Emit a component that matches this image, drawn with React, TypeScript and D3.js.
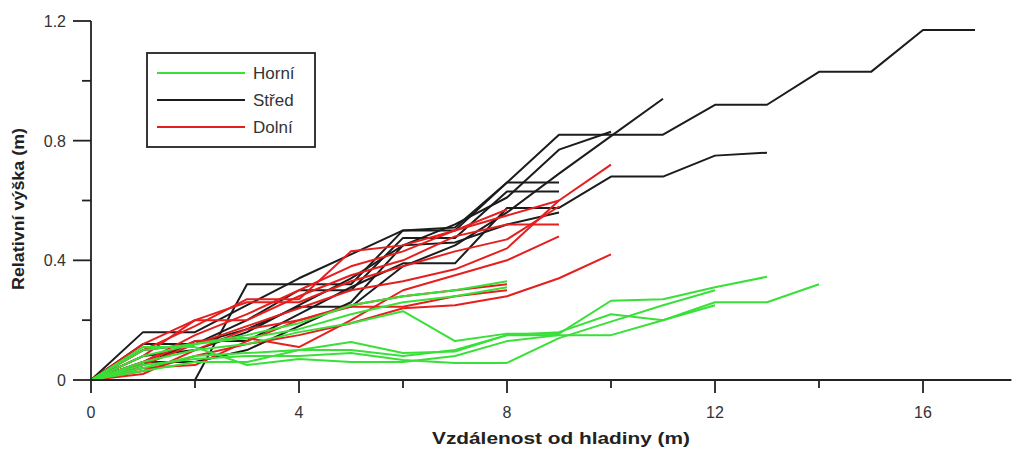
import { useEffect, useRef } from "react";
import * as d3 from "d3";

type Pt = [number, number];

// Horní (upper) profiles
const horni: Pt[][] = [
  [[0, 0], [1, 0.03], [2, 0.06], [3, 0.06], [4, 0.1], [5, 0.1], [6, 0.08], [7, 0.1], [8, 0.15], [9, 0.15], [10, 0.15], [11, 0.2], [12, 0.26], [13, 0.26], [14, 0.32]],
  [[0, 0], [1, 0.06], [2, 0.1], [3, 0.12], [4, 0.16], [5, 0.19], [6, 0.23], [7, 0.13], [8, 0.155], [9, 0.155], [10, 0.265], [11, 0.27], [12, 0.31], [13, 0.345]],
  [[0, 0], [1, 0.05], [2, 0.07], [3, 0.08], [4, 0.08], [5, 0.09], [6, 0.067], [7, 0.057], [8, 0.057], [9, 0.14], [10, 0.195], [11, 0.25], [12, 0.3]],
  [[0, 0], [1, 0.08], [2, 0.12], [3, 0.15], [4, 0.19], [5, 0.25], [6, 0.28], [7, 0.3], [8, 0.33]],
  [[0, 0], [1, 0.1], [2, 0.12], [3, 0.14], [4, 0.17], [5, 0.22], [6, 0.26], [7, 0.28], [8, 0.31]],
  [[0, 0], [1, 0.04], [2, 0.08], [3, 0.09], [4, 0.1], [5, 0.127], [6, 0.09], [7, 0.095], [8, 0.15], [9, 0.16], [10, 0.22], [11, 0.2], [12, 0.25]],
  [[0, 0], [1, 0.11], [2, 0.11], [3, 0.05], [4, 0.07], [5, 0.06], [6, 0.06], [7, 0.08], [8, 0.13], [9, 0.15]],
];

// Střed (middle) profiles
const stred: Pt[][] = [
  [[0, 0], [1, 0.16], [2, 0.16], [3, 0.25], [4, 0.34], [5, 0.42], [6, 0.5], [7, 0.5], [8, 0.66], [9, 0.82], [10, 0.82], [11, 0.82], [12, 0.92], [13, 0.92], [14, 1.03], [15, 1.03], [16, 1.17], [17, 1.17]],
  [[0, 0], [1, 0], [2, 0], [3, 0.32], [4, 0.32], [5, 0.32], [6, 0.5], [7, 0.51], [8, 0.66], [9, 0.66]],
  [[0, 0], [1, 0.1], [2, 0.12], [3, 0.17], [4, 0.245], [5, 0.245], [6, 0.38], [7, 0.45], [8, 0.56], [9, 0.69], [10, 0.815], [11, 0.94]],
  [[0, 0], [1, 0.05], [2, 0.13], [3, 0.13], [4, 0.22], [5, 0.31], [6, 0.39], [7, 0.39], [8, 0.575], [9, 0.575], [10, 0.68], [11, 0.68], [12, 0.75], [13, 0.76]],
  [[0, 0], [1, 0.12], [2, 0.12], [3, 0.2], [4, 0.3], [5, 0.3], [6, 0.475], [7, 0.475], [8, 0.63], [9, 0.63]],
  [[0, 0], [1, 0.08], [2, 0.1], [3, 0.16], [4, 0.25], [5, 0.34], [6, 0.45], [7, 0.52], [8, 0.61], [9, 0.77], [10, 0.83]],
  [[0, 0], [1, 0.06], [2, 0.06], [3, 0.1], [4, 0.18], [5, 0.26], [6, 0.45], [7, 0.46], [8, 0.52], [9, 0.56]],
];

// Dolní (lower) profiles
const dolni: Pt[][] = [
  [[0, 0], [1, 0.05], [2, 0.12], [3, 0.18], [4, 0.24], [5, 0.3], [6, 0.33], [7, 0.37], [8, 0.44], [9, 0.6], [10, 0.72]],
  [[0, 0], [1, 0.03], [2, 0.08], [3, 0.12], [4, 0.15], [5, 0.19], [6, 0.24], [7, 0.25], [8, 0.28], [9, 0.34], [10, 0.42]],
  [[0, 0], [1, 0.08], [2, 0.2], [3, 0.2], [4, 0.28], [5, 0.35], [6, 0.4], [7, 0.48], [8, 0.52], [9, 0.52]],
  [[0, 0], [1, 0.1], [2, 0.18], [3, 0.27], [4, 0.27], [5, 0.43], [6, 0.45], [7, 0.5], [8, 0.55], [9, 0.6]],
  [[0, 0], [1, 0.06], [2, 0.15], [3, 0.22], [4, 0.3], [5, 0.38], [6, 0.43], [7, 0.5], [8, 0.57]],
  [[0, 0], [1, 0.02], [2, 0.1], [3, 0.17], [4, 0.2], [5, 0.25], [6, 0.28], [7, 0.3], [8, 0.32]],
  [[0, 0], [1, 0.12], [2, 0.2], [3, 0.26], [4, 0.26], [5, 0.33], [6, 0.38], [7, 0.43], [8, 0.47], [9, 0.58]],
  [[0, 0], [1, 0.04], [2, 0.05], [3, 0.13], [4, 0.2], [5, 0.245], [6, 0.245], [7, 0.28], [8, 0.3]],
  [[0, 0], [1, 0.06], [2, 0.13], [3, 0.14], [4, 0.11], [5, 0.2], [6, 0.3], [7, 0.35], [8, 0.4], [9, 0.48]],
];

const legendNames = ["Horní", "Střed", "Dolní"];
const colors = ["#38e038", "#1c1c1c", "#e51e1e"];
const xTicks = [0, 4, 8, 12, 16];
const xMinor = [2, 6, 10, 14];
const yTicks = [0, 0.4, 0.8, 1.2];
const yMinor = [0.2, 0.6, 1.0];

export default function App() {
  const ref = useRef<SVGSVGElement>(null);

  useEffect(() => {
    if (!ref.current) return;
    const width = 1019;
    const height = 450;
    const svg = d3.select(ref.current).attr("width", width).attr("height", height);
    svg.selectAll("*").remove();

    const x = d3.scaleLinear().domain([0, 17.7]).range([91, 91 + 52 * 17.7]);
    const y = d3.scaleLinear().domain([0, 1.2]).range([380, 21]);
    const axisColor = "#222";
    const font = "'Liberation Sans', Arial, sans-serif";

    const line = d3
      .line<Pt>()
      .x((d) => x(d[0]))
      .y((d) => y(d[1]));

    const groups = [stred, dolni, horni];
    const groupColors = [colors[1], colors[2], colors[0]];
    groups.forEach((series, gi) => {
      svg
        .append("g")
        .selectAll("path")
        .data(series)
        .join("path")
        .attr("d", line)
        .attr("fill", "none")
        .attr("stroke", groupColors[gi])
        .attr("stroke-width", 2)
        .attr("stroke-linejoin", "round");
    });

    // axes
    svg
      .append("line")
      .attr("x1", x(0))
      .attr("x2", x(17.7))
      .attr("y1", y(0))
      .attr("y2", y(0))
      .attr("stroke", axisColor)
      .attr("stroke-width", 1.8);
    svg
      .append("line")
      .attr("x1", x(0))
      .attr("x2", x(0))
      .attr("y1", y(0))
      .attr("y2", y(1.2))
      .attr("stroke", axisColor)
      .attr("stroke-width", 1.8);

    svg
      .append("g")
      .selectAll("line")
      .data(xTicks)
      .join("line")
      .attr("x1", (d) => x(d))
      .attr("x2", (d) => x(d))
      .attr("y1", y(0))
      .attr("y2", y(0) + 13)
      .attr("stroke", axisColor)
      .attr("stroke-width", 1.8);
    svg
      .append("g")
      .selectAll("line")
      .data(xMinor)
      .join("line")
      .attr("x1", (d) => x(d))
      .attr("x2", (d) => x(d))
      .attr("y1", y(0))
      .attr("y2", y(0) + 8)
      .attr("stroke", axisColor)
      .attr("stroke-width", 1.8);
    svg
      .append("g")
      .selectAll("text")
      .data(xTicks)
      .join("text")
      .attr("x", (d) => x(d))
      .attr("y", 418)
      .attr("text-anchor", "middle")
      .attr("font-family", font)
      .attr("font-size", 16)
      .attr("fill", "#333")
      .text((d) => String(d));

    svg
      .append("g")
      .selectAll("line")
      .data(yTicks)
      .join("line")
      .attr("x1", x(0) - 18)
      .attr("x2", x(0))
      .attr("y1", (d) => y(d))
      .attr("y2", (d) => y(d))
      .attr("stroke", axisColor)
      .attr("stroke-width", 1.8);
    svg
      .append("g")
      .selectAll("line")
      .data(yMinor)
      .join("line")
      .attr("x1", x(0) - 9)
      .attr("x2", x(0))
      .attr("y1", (d) => y(d))
      .attr("y2", (d) => y(d))
      .attr("stroke", axisColor)
      .attr("stroke-width", 1.8);
    svg
      .append("g")
      .selectAll("text")
      .data(yTicks)
      .join("text")
      .attr("x", 66)
      .attr("y", (d) => y(d) + 6)
      .attr("text-anchor", "end")
      .attr("font-family", font)
      .attr("font-size", 16)
      .attr("fill", "#333")
      .text((d) => (d === 0 ? "0" : d.toFixed(1)));

    // axis titles
    svg
      .append("text")
      .attr("x", 561)
      .attr("y", 444)
      .attr("text-anchor", "middle")
      .attr("font-family", font)
      .attr("font-weight", "bold")
      .attr("font-size", 17)
      .attr("textLength", 258)
      .attr("lengthAdjust", "spacingAndGlyphs")
      .attr("fill", "#222")
      .text("Vzdálenost od hladiny (m)");
    svg
      .append("text")
      .attr("transform", `translate(24,${209}) rotate(-90)`)
      .attr("text-anchor", "middle")
      .attr("font-family", font)
      .attr("font-weight", "bold")
      .attr("font-size", 17)
      .attr("textLength", 162)
      .attr("lengthAdjust", "spacingAndGlyphs")
      .attr("fill", "#222")
      .text("Relativní výška (m)");

    // legend
    const lg = svg.append("g");
    lg.append("rect")
      .attr("x", 147)
      .attr("y", 53)
      .attr("width", 168)
      .attr("height", 94)
      .attr("fill", "white")
      .attr("stroke", "#222")
      .attr("stroke-width", 1.8);
    legendNames.forEach((name, i) => {
      const ly = 73 + i * 27;
      lg.append("line")
        .attr("x1", 157)
        .attr("x2", 245)
        .attr("y1", ly)
        .attr("y2", ly)
        .attr("stroke", colors[i])
        .attr("stroke-width", 2);
      lg.append("text")
        .attr("x", 253)
        .attr("y", ly + 6)
        .attr("font-family", font)
        .attr("font-size", 17)
        .attr("fill", "#333")
        .text(name);
    });
  }, []);

  return (
    <div style={{ position: "absolute", left: 0, top: 0 }}>
      <svg ref={ref} />
    </div>
  );
}
